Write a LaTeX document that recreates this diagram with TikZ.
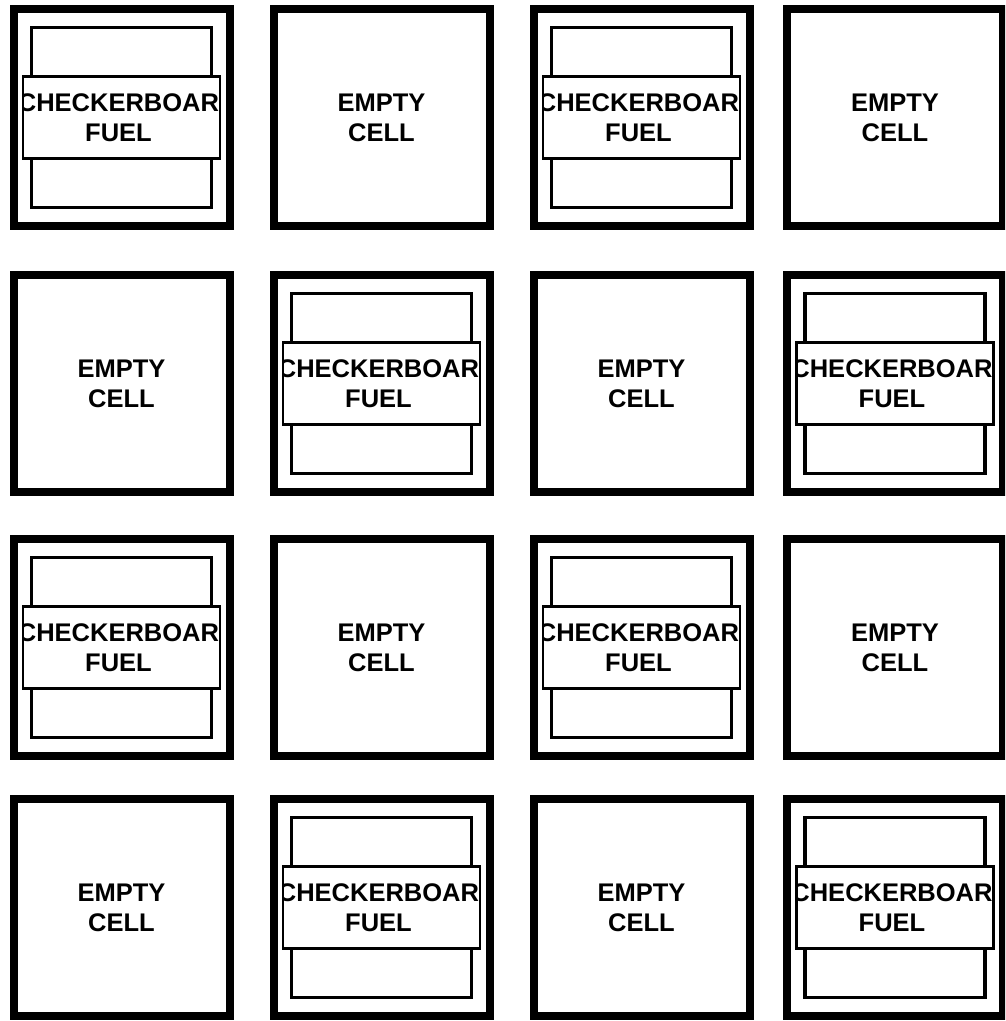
\documentclass[tikz,border=0pt]{standalone}
\usepackage{fontspec}
\setmainfont{Liberation Sans}
\begin{document}
\begin{tikzpicture}[x=1pt,y=-1pt,
  cellbox/.style={draw, line width=8pt, minimum width=216pt, minimum height=217pt, inner sep=0pt, outer sep=0pt},
  pinbox/.style={draw, line width=3.2pt, minimum width=180pt, minimum height=180pt, inner sep=0pt, outer sep=0pt},
  labelbox/.style={draw, fill=white, line width=2.2pt, minimum width=197pt, minimum height=82pt, inner sep=0pt, outer sep=0pt},
  celltext/.style={font=\fontsize{25.5}{30}\selectfont\bfseries, align=center, inner sep=0pt}]
\useasboundingbox (0,0) rectangle (1005,1021);
\clip (0,0) rectangle (1005,1021);
% fuel cells
\foreach \n/\x/\y in {00/121.5/117.5, 02/641.5/117.5, 11/381.5/383.5, 13/895/383.5,
                      20/121.5/647.5, 22/641.5/647.5, 31/381.5/907.5, 33/895/907.5}{
  \node[cellbox] (cell-\n) at (\x,\y) {};
  \node[pinbox] (pin-\n) at (cell-\n.center) {};
  \node[labelbox] (lab-\n) at (cell-\n.center) {};
  \begin{scope}
    \clip ([xshift=-1pt]lab-\n.south west) rectangle ([xshift=1pt]lab-\n.north east);
    \node[celltext] (txt-\n) at ([xshift=-3pt]lab-\n.center) {CHECKERBOAR\\FUEL};
  \end{scope}
}
% empty cells
\foreach \n/\x/\y in {01/381.5/117.5, 03/895/117.5, 10/121.5/383.5, 12/641.5/383.5,
                      21/381.5/647.5, 23/895/647.5, 30/121.5/907.5, 32/641.5/907.5}{
  \node[cellbox] (cell-\n) at (\x,\y) {};
  \node[celltext] (txt-\n) at (cell-\n.center) {EMPTY\\CELL};
}
\end{tikzpicture}
\end{document}
